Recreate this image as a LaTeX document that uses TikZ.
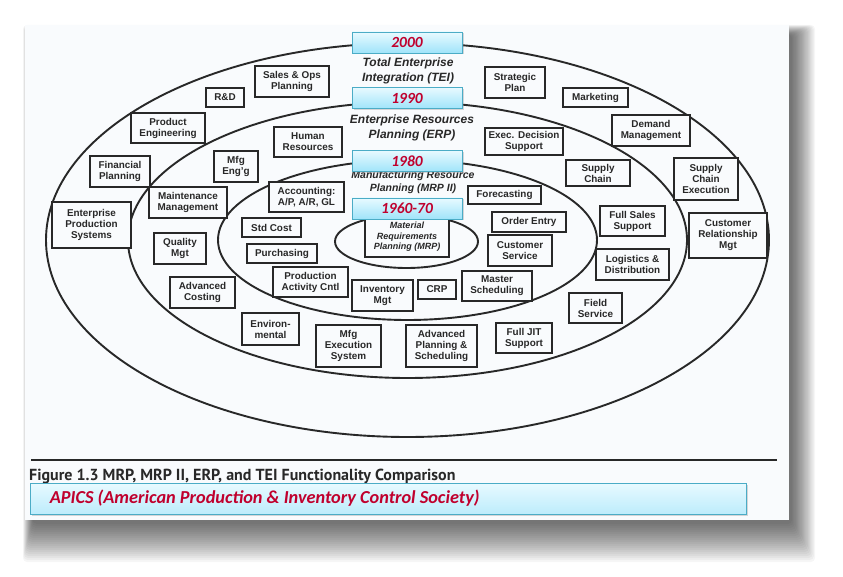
\documentclass[tikz,border=0pt]{standalone}
\usepackage{fontspec}
\setmainfont{Liberation Sans}
\newfontfamily\calfont{Carlito}
\newfontfamily\capfont{PT Sans}
\usetikzlibrary{shadows}
\definecolor{ink}{RGB}{40,40,40}
\definecolor{page}{RGB}{249,251,253}
\definecolor{yrtop}{RGB}{232,250,255}
\definecolor{yrbot}{RGB}{160,228,250}
\definecolor{yredge}{RGB}{75,172,198}
\definecolor{yrred}{RGB}{192,0,45}
\tikzset{
 bx/.style={draw=ink, line width=1.5pt, fill=page, inner sep=0pt, align=center, text=ink, font=\bfseries\fontsize{9.9}{11}\selectfont},
 ring/.style={draw=ink, line width=1.9pt},
 yrbox/.style={draw=yredge, line width=0.8pt, top color=yrtop, bottom color=yrbot, minimum width=110pt, minimum height=21pt, inner sep=0pt, text=yrred, font=\calfont\bfseries\itshape\fontsize{15.5}{16}\selectfont, drop shadow={opacity=0.3, shadow xshift=1.5pt, shadow yshift=-1.5pt}},
 ttl/.style={align=center, text=ink, inner sep=0pt, font=\bfseries\itshape\fontsize{12}{15}\selectfont},
}
\newcommand\bx[6]{\node[bx, minimum width={#4pt-#2pt}, minimum height={#5pt-#3pt}] (#1) at ({(#2+#4)/2},{(#3+#5)/2}) {#6};}
\begin{document}
\begin{tikzpicture}[x=1pt,y=-1pt]
\useasboundingbox (0,0) rectangle (843,577);
\fill[white] (0,0) rectangle (843,577);
% page shadow
\foreach \i in {1,...,20} {
  \fill[black, opacity=0.034, rounded corners=4pt] ({33-0.5*\i},{35-0.5*\i}) rectangle ({791+1.2*\i},{522+2.0*\i});
}
\fill[page] (25,25) rectangle (789,520);
% rings
\draw[ring] (407.5,240) ellipse [x radius=361.5pt, y radius=197pt];
\draw[ring] (407.5,240) ellipse [x radius=279.5pt, y radius=138pt];
\draw[ring] (407.5,240) ellipse [x radius=189.5pt, y radius=80pt];
\draw[ring] (406.5,241.5) ellipse [x radius=71.5pt, y radius=26.5pt];
% titles
\node[ttl] (tei) at (408,70.5) {Total Enterprise\\Integration (TEI)};
\node[ttl] (erp) at (412,127.5) {Enterprise Resources\\Planning (ERP)};
\node[ttl, font=\bfseries\itshape\fontsize{10.5}{13}\selectfont] (mrp2) at (413,182.5) {Manufacturing Resource\\Planning (MRP II)};
% MRP box
\node[bx, minimum width=84pt, minimum height=44pt, font=\bfseries\itshape\fontsize{9}{10.5}\selectfont, text depth=0pt] (mrp) at (407,235) {\\[-2pt]Material\\Requirements\\Planning (MRP)};
% boxes
\bx{sop}{255}{66}{329}{97}{Sales \& Ops\\Planning}
\bx{rd}{206}{88}{244}{107}{R\&D}
\bx{pe}{131}{113}{205}{143}{Product\\Engineering}
\bx{hr}{274}{127}{342}{157}{Human\\Resources}
\bx{fp}{90}{156}{150}{187}{Financial\\Planning}
\bx{me}{214}{151}{258}{182}{Mfg\\Eng'g}
\bx{mm}{149}{187}{227}{218}{Maintenance\\Management}
\bx{acc}{269}{182}{344}{212}{Accounting:\\A/P, A/R, GL}
\bx{eps}{52}{202}{131}{248}{Enterprise\\Production\\Systems}
\bx{sp}{485}{67}{545}{98}{Strategic\\Plan}
\bx{mk}{563}{88}{628}{107}{Marketing}
\bx{dm}{612}{115}{690}{146}{Demand\\Management}
\bx{eds}{485}{128}{563}{155}{Exec. Decision\\Support}
\bx{sc}{566}{160}{630}{186}{Supply\\Chain}
\bx{sce}{674}{158}{738}{200}{Supply\\Chain\\Execution}
\bx{fc}{468}{186}{541}{204}{Forecasting}
\bx{fss}{600}{206}{665}{236}{Full Sales\\Support}
\bx{std}{242}{218}{301}{237}{Std Cost}
\bx{qm}{154}{233}{206}{264}{Quality\\Mgt}
\bx{pur}{247}{244}{317}{263}{Purchasing}
\bx{pac}{273}{267}{348}{297}{Production\\Activity Cntl}
\bx{ac}{170}{277}{235}{308}{Advanced\\Costing}
\bx{im}{352}{280}{413}{311}{Inventory\\Mgt}
\bx{env}{242}{313}{299}{345}{Environ-\\mental}
\bx{mes}{316}{325}{381}{367}{Mfg\\Execution\\System}
\bx{aps}{406}{325}{477}{367}{Advanced\\Planning \&\\Scheduling}
\bx{oe}{492}{212}{566}{232}{Order Entry}
\bx{cs}{488}{235}{552}{266}{Customer\\Service}
\bx{crm}{689}{213}{767}{258}{Customer\\Relationship\\Mgt}
\bx{ld}{596}{249}{669}{280}{Logistics \&\\Distribution}
\bx{crp}{418}{280}{456}{299}{CRP}
\bx{ms}{462}{271}{532}{301}{Master\\Scheduling}
\bx{fs}{569}{293}{622}{323}{Field\\Service}
\bx{jit}{496}{323}{552}{353}{Full JIT\\Support}
% year boxes
\node[yrbox] (y2000) at (407,42.5) {2000};
\node[yrbox] (y1990) at (407,98) {1990};
\node[yrbox] (y1980) at (407,161) {1980};
\node[yrbox] (y1960) at (407,208.5) {1960-70};
% caption
\draw[ink, line width=2.6pt] (31,460) -- (777,460);
\node[anchor=base west, inner sep=0pt, text=ink, font=\capfont\bfseries\fontsize{16}{18}\selectfont] (cap) at (29,480) {Figure 1.3 MRP, MRP II, ERP, and TEI Functionality Comparison};
\node[draw=yredge, line width=0.8pt, top color=yrtop, bottom color=yrbot!70!white, minimum width=716pt, minimum height=31pt, inner sep=0pt, drop shadow={opacity=0.3, shadow xshift=1.5pt, shadow yshift=-1.5pt}] (apics) at (388,498.5) {};
\node[anchor=west, inner sep=0pt, text=yrred, font=\calfont\bfseries\itshape\fontsize{18.3}{20}\selectfont] (apicst) at ([xshift=20pt]apics.west) {APICS (American Production \& Inventory Control Society)};
\end{tikzpicture}
\end{document}
